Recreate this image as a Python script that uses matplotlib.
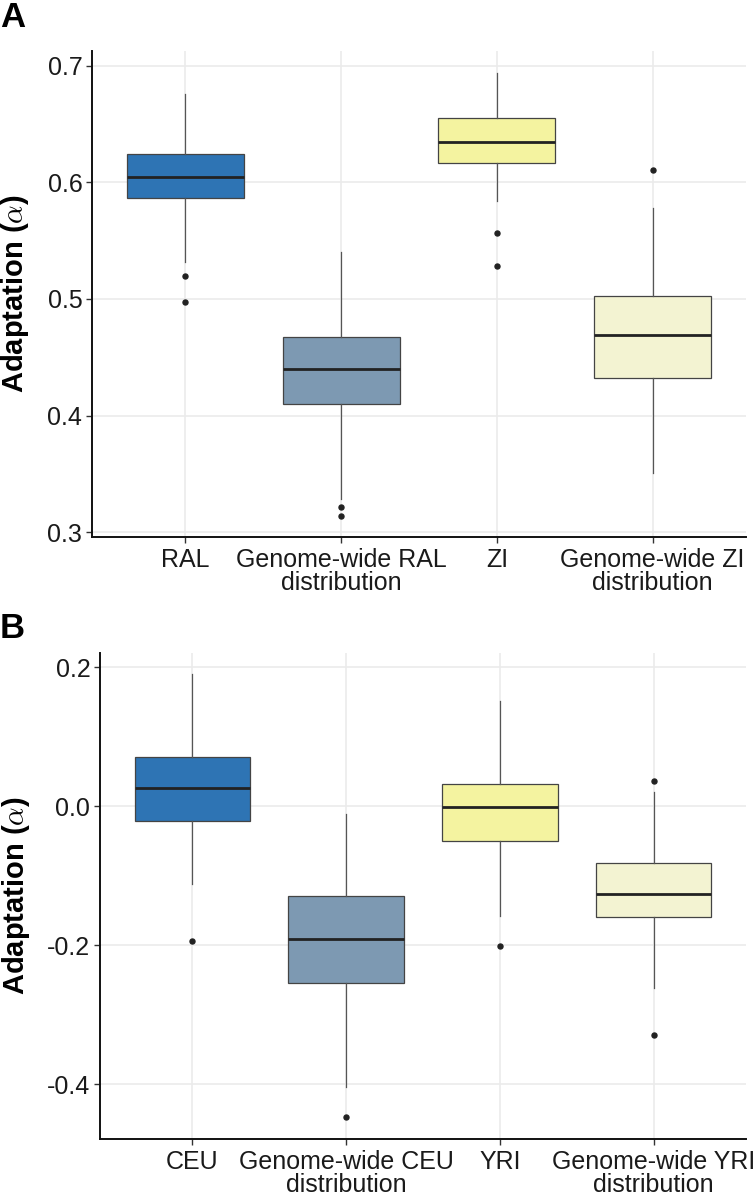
import numpy as np
import matplotlib
matplotlib.use("Agg")
import matplotlib.pyplot as plt

plt.rcParams['font.family'] = ['Liberation Sans', 'DejaVu Sans']
plt.rcParams['mathtext.fontset'] = 'cm'

# panel A: Drosophila
labels_a = ["RAL", "Genome-wide RAL\ndistribution", "ZI", "Genome-wide ZI\ndistribution"]
whislo_a = [0.5315, 0.3283, 0.584, 0.3508]
q1_a = [0.5868, 0.410, 0.6166, 0.432]
med_a = [0.6043, 0.4397, 0.6344, 0.4691]
q3_a = [0.624, 0.4673, 0.6554, 0.5023]
whishi_a = [0.6755, 0.540, 0.694, 0.5783]
fliers_a = [[0.520, 0.4978], [0.322, 0.3142], [0.5569, 0.528], [0.6109]]

# panel B: human
labels_b = ["CEU", "Genome-wide CEU\ndistribution", "YRI", "Genome-wide YRI\ndistribution"]
whislo_b = [-0.1118, -0.4039, -0.1578, -0.261]
q1_b = [-0.0216, -0.2538, -0.050, -0.1588]
med_b = [0.0259, -0.1914, -0.0014, -0.1258]
q3_b = [0.0714, -0.1286, 0.0325, -0.0816]
whishi_b = [0.190, -0.0115, 0.1515, 0.0201]
fliers_b = [[-0.1937], [-0.4475], [-0.2006], [0.0364, -0.330]]

colors = ["#2E74B4", "#7D99B2", "#F4F3A0", "#F3F3D2"]


def draw_panel(ax, labels, whislo, q1, med, q3, whishi, fliers, ylim, yticks, ytl):
    stats = []
    for i in range(len(labels)):
        stats.append(dict(med=med[i], q1=q1[i], q3=q3[i], whislo=whislo[i],
                          whishi=whishi[i], fliers=fliers[i], label=labels[i]))
    pos = np.arange(1, len(labels) + 1)
    bp = ax.bxp(stats, positions=pos, widths=0.75, showcaps=False, patch_artist=True,
                boxprops=dict(edgecolor="#444444", linewidth=0.9),
                medianprops=dict(color="#222222", linewidth=2.0),
                whiskerprops=dict(color="#555555", linewidth=0.9),
                flierprops=dict(marker="o", markersize=3.6, markerfacecolor="#222222",
                                markeredgecolor="#222222"))
    for patch, c in zip(bp["boxes"], colors):
        patch.set_facecolor(c)
    for z in bp["boxes"] + bp["medians"] + bp["whiskers"] + bp["fliers"]:
        z.set_zorder(3)

    ax.set_xlim(0.4, 4.6)
    ax.set_ylim(*ylim)
    ax.set_yticks(yticks)
    ax.set_yticklabels(ytl)
    ax.set_xticks(pos)
    ax.set_xticklabels(labels, linespacing=0.95)
    ax.grid(True, color="#EBEBEB", linewidth=1.2, zorder=0)
    ax.set_axisbelow(True)
    for s in ["top", "right"]:
        ax.spines[s].set_visible(False)
    for s in ["left", "bottom"]:
        ax.spines[s].set_linewidth(1.4)
        ax.spines[s].set_color("#111111")
    ax.tick_params(axis="both", length=4, width=1.0, color="#333333",
                   labelsize=18, labelcolor="#1a1a1a", pad=3)
    ax.tick_params(axis="x", pad=4)
    ax.set_ylabel(r"Adaptation ($\mathbf{\alpha}$)", fontsize=21, fontweight="bold")


fig = plt.figure(figsize=(7.56, 11.96), dpi=100)

ax1 = fig.add_axes([0.1217, 0.551, 0.865, 0.4064])
draw_panel(ax1, labels_a, whislo_a, q1_a, med_a, q3_a, whishi_a, fliers_a,
           (0.296, 0.7126), [0.3, 0.4, 0.5, 0.6, 0.7], ["0.3", "0.4", "0.5", "0.6", "0.7"])
ax1.yaxis.set_label_coords(-0.093, 0.5)

ax2 = fig.add_axes([0.1323, 0.0477, 0.8545, 0.4066])
draw_panel(ax2, labels_b, whislo_b, q1_b, med_b, q3_b, whishi_b, fliers_b,
           (-0.479, 0.221), [-0.4, -0.2, 0.0, 0.2], ["-0.4", "-0.2", "0.0", "0.2"])
ax2.yaxis.set_label_coords(-0.106, 0.5)

fig.text(0.0, 0.999, "A", fontsize=25, fontweight="bold", ha="left", va="top")
fig.text(0.0, 0.488, "B", fontsize=25, fontweight="bold", ha="left", va="top")

fig.savefig("out.png", dpi=100)
